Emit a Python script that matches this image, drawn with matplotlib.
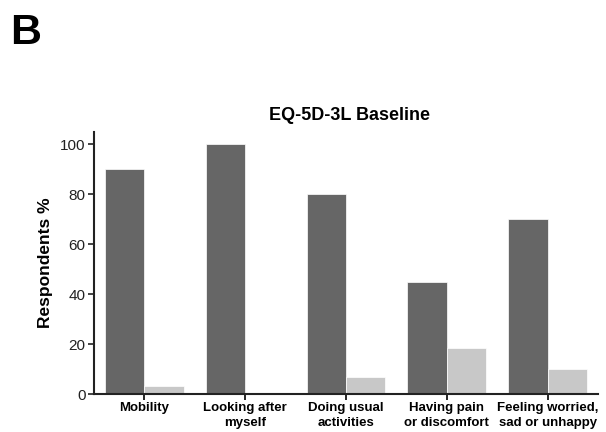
import numpy as np
import matplotlib.pyplot as plt

plt.rcParams['font.family'] = ['Liberation Sans', 'DejaVu Sans']

categories = ['Mobility', 'Looking after\nmyself', 'Doing usual\nactivities',
              'Having pain\nor discomfort', 'Feeling worried,\nsad or unhappy']
some_problems = [90, 100, 80, 44.8, 70]
severe_problems = [3.3, 0, 6.7, 18.3, 10]
y_ticks = [0, 20, 40, 60, 80, 100]

fig = plt.figure(figsize=(6.06, 4.32), dpi=100)
ax = fig.add_axes([94 / 606, 1 - 394 / 432, 504 / 606, 262 / 432])

x = np.arange(len(categories))
w = 0.39
ax.bar(x - w / 2, some_problems, width=w, color='#666666', edgecolor='white', linewidth=0.5)
ax.bar(x + w / 2, severe_problems, width=w, color='#c8c8c8', edgecolor='white', linewidth=0.5)

ax.set_xlim(-0.5, 4.5)
ax.set_ylim(0, 105)
ax.set_yticks(y_ticks)
ax.set_xticks(x)
ax.set_xticklabels(categories, fontsize=9.5, fontweight='bold', linespacing=1.25)
ax.tick_params(axis='y', labelsize=11, length=4, width=1.2, pad=2, colors='#222222')
ax.tick_params(axis='x', length=4, width=1.2, pad=2)
for s in ['top', 'right']:
    ax.spines[s].set_visible(False)
for s in ['left', 'bottom']:
    ax.spines[s].set_linewidth(1.5)
    ax.spines[s].set_color('#222222')

ax.set_ylabel('Respondents %', fontsize=12.5, fontweight='bold', labelpad=5)
ax.set_title('EQ-5D-3L Baseline', fontsize=13, fontweight='bold', pad=9, x=0.507)
fig.text(10 / 606, 1 - 44 / 432, 'B', fontsize=31, fontweight='bold')

fig.savefig('out.png', dpi=100)
